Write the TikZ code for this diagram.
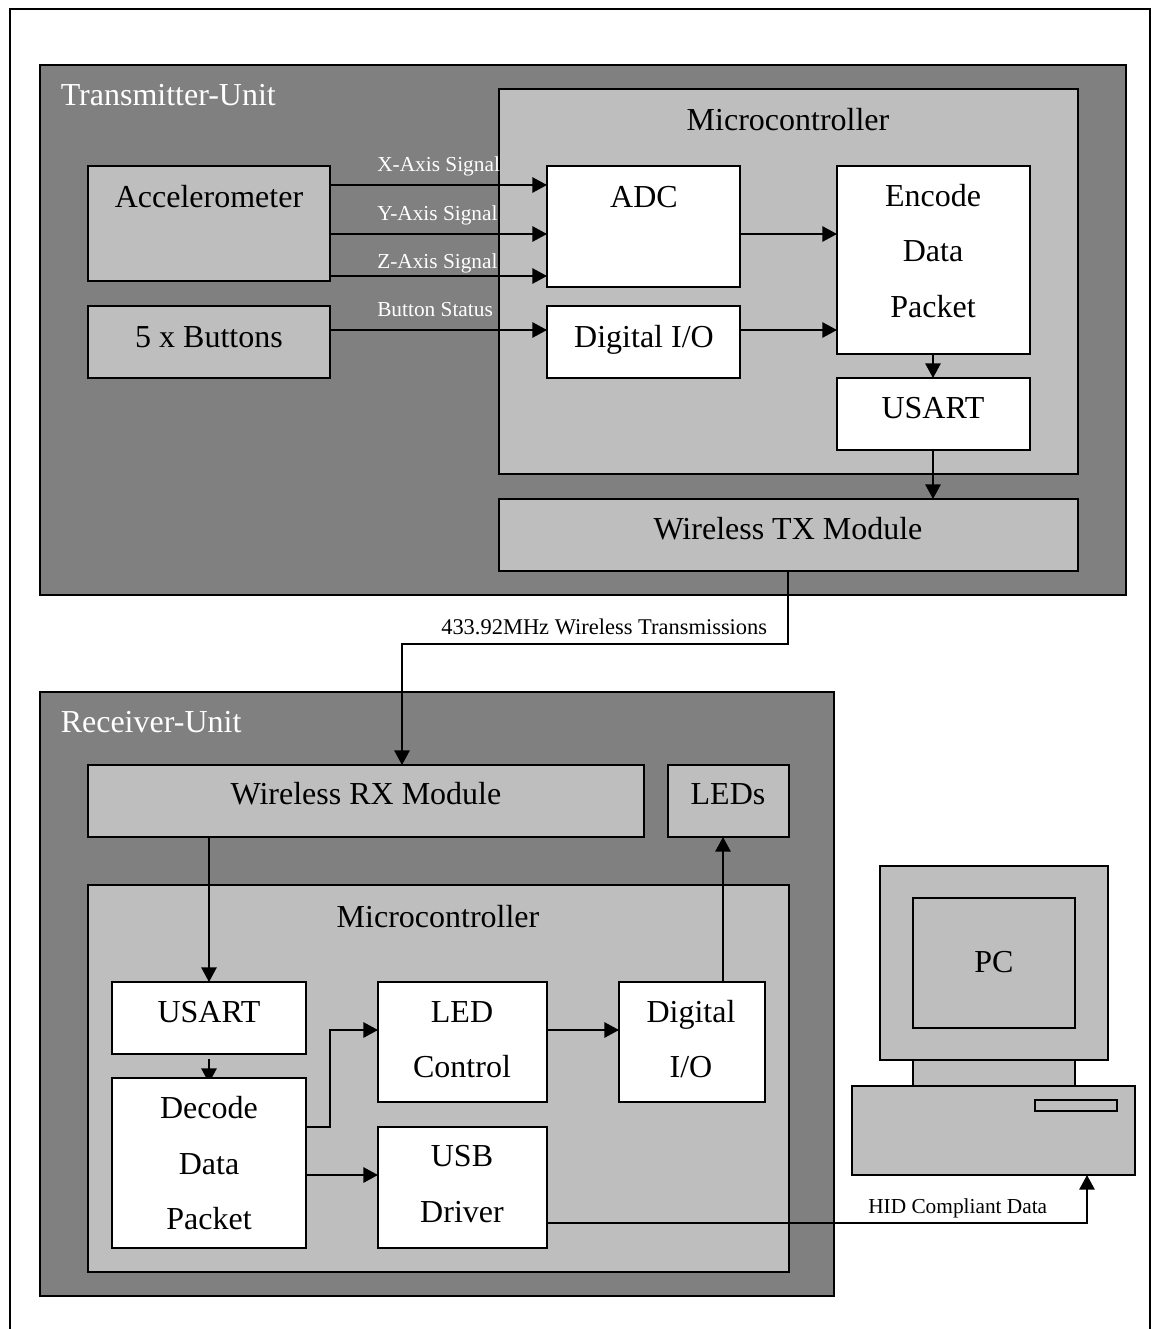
\documentclass[tikz,border=0pt]{standalone}
\usepackage{fontspec}
\setmainfont{Liberation Serif}
\usetikzlibrary{arrows.meta}
\definecolor{dark}{gray}{0.5}
\definecolor{mid}{gray}{0.745}
\tikzset{
  x=0.75pt,y=-0.75pt,
  box/.style={draw=black,line width=1.5pt,inner sep=0pt,outer sep=0pt},
  lab/.style={inner sep=0pt,font=\fontsize{24pt}{24pt}\selectfont,anchor=base,text=black},
  sig/.style={inner sep=0pt,font=\fontsize{16pt}{16pt}\selectfont,anchor=base west},
  conn/.style={line width=1.35pt,-{Triangle[length=11pt,width=11.5pt]}},
}
\newcommand{\bx}[6]{% name, x0,y0,x1,y1,fill
  \pgfmathsetmacro{\bw}{(#4-#2)*0.75}
  \pgfmathsetmacro{\bh}{(#5-#3)*0.75}
  \node[box,fill=#6,minimum width=\bw pt,minimum height=\bh pt] (#1) at ({(#2+#4)/2},{(#3+#5)/2}) {};
}
\begin{document}
\begin{tikzpicture}
\useasboundingbox (0,0) rectangle (1151,1329);
\bx{frame}{10}{8.5}{1150}{1345}{white}
% transmitter
\bx{tx}{40}{65}{1126}{595}{dark}
\bx{m1}{499}{89}{1078}{474}{mid}
\bx{acc}{88}{166}{330}{281}{mid}
\bx{btn}{88}{306}{330}{378}{mid}
\bx{adc}{547}{166}{740}{287}{white}
\bx{dio}{547}{306}{740}{378}{white}
\bx{enc}{837}{166}{1030}{354}{white}
\bx{us1}{837}{378}{1030}{450}{white}
\bx{txm}{499}{499}{1078}{571}{mid}
% receiver
\bx{rx}{40}{692}{834}{1296}{dark}
\bx{rxm}{88}{765}{644}{837}{mid}
\bx{led}{668}{765}{789}{837}{mid}
\bx{m2}{88}{885}{789}{1272}{mid}
\bx{us2}{112}{982}{306}{1054}{white}
% this arrow runs under the Decode box, which hides its point
\coordinate (dectip) at (209,1083);
\draw[conn] ([yshift=-3.75pt]us2.south) -- (dectip);
\bx{dec}{112}{1078}{306}{1248}{white}
\bx{lc}{378}{982}{547}{1102}{white}
\bx{di2}{619}{982}{765}{1102}{white}
\bx{usb}{378}{1127}{547}{1248}{white}
% PC
\bx{mon}{879.5}{866}{1108}{1060}{mid}
\bx{scr}{913}{898}{1075}{1028}{mid}
\bx{nck}{913}{1060}{1075}{1086}{mid}
\bx{bas}{852}{1086}{1135}{1175}{mid}
\bx{slt}{1035}{1100}{1117}{1111}{mid}
% labels
\node[lab,text=white,anchor=base west] (t1) at (60.5,105) {Transmitter-Unit};
\node[lab,text=white,anchor=base west] (t2) at (60.5,732) {Receiver-Unit};
\node[lab] (l1) at (788,130) {Microcontroller};
\node[lab] (l2) at (209,207) {Accelerometer};
\node[lab] (l3) at (209,347) {5 x Buttons};
\node[lab] (l4) at (644,207) {ADC};
\node[lab] (l5) at (644,347) {Digital I/O};
\node[lab] (l6) at (933,206) {Encode};
\node[lab] (l7) at (933,261) {Data};
\node[lab] (l8) at (933,317) {Packet};
\node[lab] (l9) at (933,418) {USART};
\node[lab] (l10) at (788,539) {Wireless TX Module};
\node[lab] (l11) at (366,804) {Wireless RX Module};
\node[lab] (l12) at (728,804) {LEDs};
\node[lab] (l13) at (438,927) {Microcontroller};
\node[lab] (l14) at (209,1022) {USART};
\node[lab] (l15) at (209,1118) {Decode};
\node[lab] (l16) at (209,1174) {Data};
\node[lab] (l17) at (209,1229) {Packet};
\node[lab] (l18) at (462,1022) {LED};
\node[lab] (l19) at (462,1077) {Control};
\node[lab] (l20) at (691,1022) {Digital};
\node[lab] (l21) at (691,1077) {I/O};
\node[lab] (l22) at (462,1166) {USB};
\node[lab] (l23) at (462,1222) {Driver};
\node[lab] (l24) at (994,972) {PC};
\node[sig,text=white] (s1) at (377,171) {X-Axis Signal};
\node[sig,text=white] (s2) at (377,220) {Y-Axis Signal};
\node[sig,text=white] (s3) at (377,268) {Z-Axis Signal};
\node[sig,text=white] (s4) at (377,316) {Button Status};
\node[sig,font=\fontsize{16.85pt}{17pt}\selectfont] (s5) at (441,634) {433.92MHz Wireless Transmissions};
\node[sig] (s6) at (868,1213) {HID Compliant Data};
% connectors
\draw[conn] ([shift={(0,19)}]acc.north east) -- ([shift={(0,19)}]adc.north west);
\draw[conn] ([shift={(0,68)}]acc.north east) -- ([shift={(0,68)}]adc.north west);
\draw[conn] ([shift={(0,110)}]acc.north east) -- ([shift={(0,110)}]adc.north west);
\draw[conn] ([shift={(0,24)}]btn.north east) -- ([shift={(0,24)}]dio.north west);
\draw[conn] ([shift={(0,68)}]adc.north east) -- ([shift={(0,68)}]enc.north west);
\draw[conn] ([shift={(0,24)}]dio.north east) -- ([shift={(0,164)}]enc.north west);
\draw[conn] ([shift={(-0.5,0)}]enc.south) -- ([shift={(-0.5,0)}]us1.north);
\draw[conn] ([shift={(-0.5,0)}]us1.south) -- ([shift={(-0.5,0)}]us1.south |- txm.north);
\draw[conn] ([shift={(-0.5,0)}]txm.south) |- ++(-386,73) coordinate (bend) -- (bend |- rxm.north);
\draw[conn] (dec.north |- rxm.south) -- (us2.north);
\draw[conn] ([shift={(0,49)}]dec.north east) -| ([shift={(-48,48)}]lc.north west) -- ([shift={(0,48)}]lc.north west);
\draw[conn] ([shift={(0,97)}]dec.north east) -- ([shift={(0,48)}]usb.north west);
\draw[conn] ([shift={(0,48)}]lc.north east) -- ([shift={(0,48)}]di2.north west);
\draw[conn] ([shift={(104,0)}]di2.north west) -- ([shift={(55,0)}]led.south west);
\draw[conn] ([shift={(0,96)}]usb.north east) -| ([shift={(235,0)}]bas.south west);
\end{tikzpicture}
\end{document}
